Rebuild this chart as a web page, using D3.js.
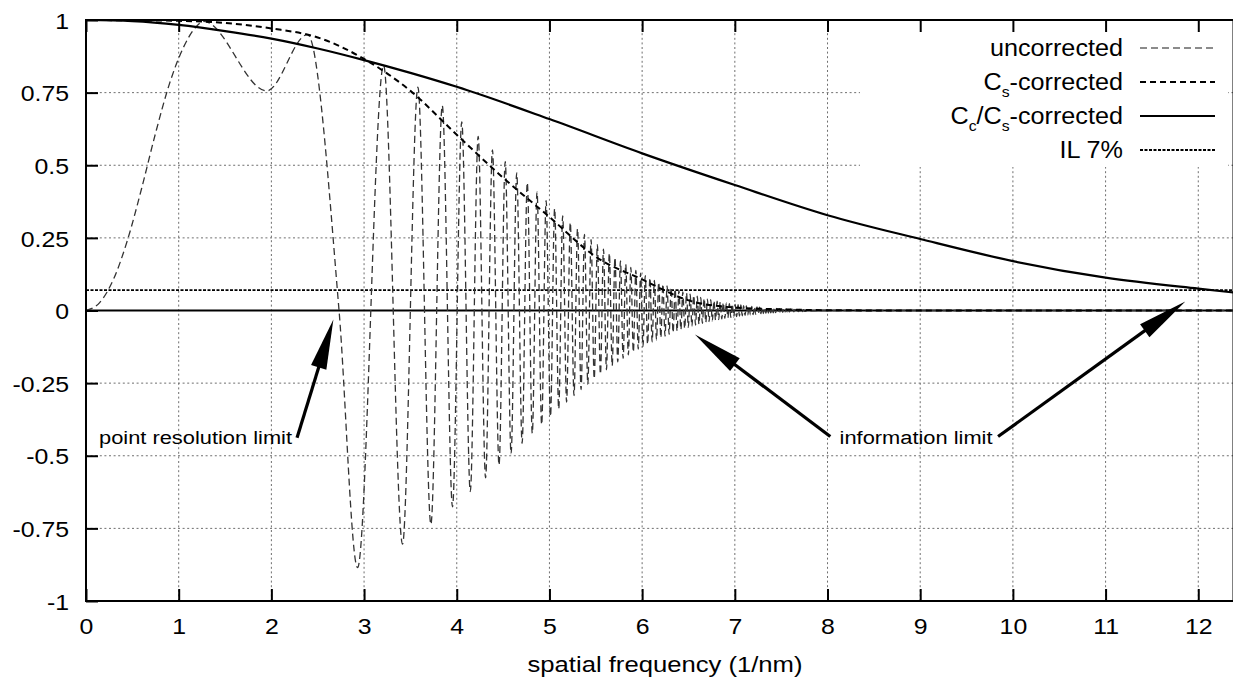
<!DOCTYPE html>
<html>
<head>
<meta charset="utf-8">
<script src="https://cdn.jsdelivr.net/npm/d3@7"></script>
<style>
body { margin: 0; background: #fff; }
svg { display: block; font-family: "Liberation Sans", Arial, Helvetica, sans-serif; }
</style>
</head>
<body>
<svg id="chart" width="1233" height="679"></svg>
<script>
// ---- data ----
var xTicks = [0, 1, 2, 3, 4, 5, 6, 7, 8, 9, 10, 11, 12];
var yTicks = [-1, -0.75, -0.5, -0.25, 0, 0.25, 0.5, 0.75, 1];
var yTickLabels = ["-1", "-0.75", "-0.5", "-0.25", "0", "0.25", "0.5", "0.75", "1"];

// Cc/Cs-corrected envelope
var ccsX = [0, 0.5, 1, 1.5, 2, 2.5, 3, 3.5, 4, 5, 6, 7, 8, 9, 10, 11, 12, 12.38];
var ccsY = [1, 0.996, 0.983, 0.962, 0.936, 0.902, 0.862, 0.818, 0.770, 0.659, 0.541, 0.432, 0.328, 0.246, 0.170, 0.113, 0.075, 0.062];

// Cs-corrected envelope
var csX = [0, 0.5, 1, 1.5, 2, 2.5, 3, 3.5, 4, 4.5, 5, 5.5, 6, 6.5, 7, 7.5, 8, 9, 12.38];
var csY = [1, 0.999, 0.997, 0.99, 0.971, 0.94, 0.866, 0.756, 0.605, 0.457, 0.322, 0.185, 0.107, 0.035, 0.010, 0.004, 0.001, 0, 0];

// uncorrected CTF: rise, then extrema of the oscillation (peaks / troughs)
var uncX = [0, 0.15, 0.3, 0.45, 0.6, 0.75, 0.9, 1.05, 1.17, 1.27,
  1.95, 2.39, 2.73,
  2.930, 3.211, 3.415, 3.581, 3.721, 3.844, 3.954, 4.054, 4.146, 4.231,
  4.311, 4.385, 4.456, 4.523, 4.586, 4.647, 4.705, 4.761, 4.815, 4.866,
  4.916, 4.964, 5.011, 5.056, 5.100, 5.143, 5.185, 5.225, 5.265, 5.303,
  5.341, 5.378, 5.414, 5.449, 5.483, 5.517, 5.550, 5.583, 5.615, 5.646,
  5.677, 5.707, 5.737, 5.766, 5.795, 5.823, 5.851, 5.878, 5.905, 5.932,
  5.958, 5.984, 6.009, 6.034, 6.059, 6.084, 6.108, 6.132, 6.155, 6.179,
  6.202, 6.224, 6.247, 6.269, 6.291, 6.313, 6.334, 6.356, 6.377, 6.397,
  6.418, 6.439, 6.459, 6.479, 6.498, 6.518, 6.537, 6.557, 6.576, 6.595,
  6.613, 6.632, 6.650, 6.669, 6.687, 6.704, 6.722, 6.740, 6.757, 6.775,
  6.792, 6.809, 6.826, 6.843, 6.859, 6.876, 6.892, 6.909, 6.925, 6.941,
  6.957, 6.972, 6.988, 7.004, 7.019, 7.035, 7.050, 7.065, 7.080, 7.095,
  7.110, 7.125, 7.139, 7.154, 7.168, 7.183, 7.197, 7.211, 7.225, 7.239,
  7.253, 7.267, 7.281, 7.295, 7.308, 7.322, 7.335, 7.349, 7.362, 7.375,
  7.388, 7.401, 7.414, 7.427, 7.440, 7.453, 7.466, 7.478, 7.491, 7.504,
  7.516, 7.528, 7.541, 7.553, 7.565, 7.577, 7.589, 7.601, 7.613, 7.625,
  7.637, 7.649, 7.661, 7.672, 7.684, 7.696, 7.707, 7.719, 7.730, 7.741,
  7.753, 7.9, 12.38];
var uncY = [0, 0.028, 0.11, 0.245, 0.42, 0.61, 0.78, 0.905, 0.97, 0.995,
  0.756, 0.95, 0,
  -0.885, 0.844, -0.804, 0.769, -0.736, 0.705, -0.676, 0.649, -0.623, 0.599,
  -0.576, 0.553, -0.532, 0.512, -0.493, 0.474, -0.457, 0.440, -0.423, 0.408,
  -0.393, 0.378, -0.365, 0.351, -0.339, 0.326, -0.315, 0.303, -0.293, 0.282,
  -0.272, 0.262, -0.253, 0.244, -0.235, 0.227, -0.219, 0.211, -0.204, 0.197,
  -0.190, 0.183, -0.177, 0.171, -0.165, 0.159, -0.153, 0.148, -0.143, 0.138,
  -0.133, 0.129, -0.124, 0.120, -0.116, 0.112, -0.108, 0.104, -0.101, 0.097,
  -0.094, 0.091, -0.088, 0.085, -0.082, 0.079, -0.076, 0.074, -0.071, 0.069,
  -0.066, 0.064, -0.062, 0.060, -0.058, 0.056, -0.054, 0.052, -0.050, 0.049,
  -0.047, 0.045, -0.044, 0.042, -0.041, 0.039, -0.038, 0.037, -0.036, 0.034,
  -0.033, 0.032, -0.031, 0.030, -0.029, 0.028, -0.027, 0.026, -0.025, 0.024,
  -0.024, 0.023, -0.022, 0.021, -0.021, 0.020, -0.019, 0.019, -0.018, 0.017,
  -0.017, 0.016, -0.016, 0.015, -0.015, 0.014, -0.014, 0.013, -0.013, 0.012,
  -0.012, 0.0115, -0.011, 0.0107, -0.0104, 0.010, -0.0097, 0.0094, -0.0091, 0.0088,
  -0.0085, 0.0082, -0.0079, 0.0077, -0.0074, 0.0072, -0.0069, 0.0067, -0.0065, 0.0063,
  -0.0061, 0.0059, -0.0057, 0.0055, -0.0053, 0.0051, -0.005, 0.0048, -0.0046, 0.0045,
  -0.0043, 0.0042, -0.0041, 0.0039, -0.0038, 0.0037, -0.0036, 0.0035, -0.0034, 0.0032,
  -0.0031, 0, 0];

var ilLevel = 0.07;

var legendNames = [
  [["uncorrected", ""]],
  [["C", ""], ["s", "sub"], ["-corrected", ""]],
  [["C", ""], ["c", "sub"], ["/C", ""], ["s", "sub"], ["-corrected", ""]],
  [["IL 7%", ""]]
];

var labelTexts = ["point resolution limit", "information limit"];
var labelAt = [[0.14, -0.435], [8.13, -0.435]];
var arrowFrom = [[2.277, -0.438], [8.03, -0.434], [9.84, -0.434]];
var arrowTo = [[2.669, -0.031], [6.57, -0.083], [11.86, 0.031]];

// ---- layout ----
var svg = d3.select("#chart");
var pL = 86, pR = 1233.5, pT = 20, pB = 601;

var x = d3.scaleLinear().domain([0, 12.38]).range([pL, pR]);
var y = d3.scaleLinear().domain([-1, 1]).range([pB, pT]);

var styles = {
  unc: { stroke: "#333", width: 1.3, dash: "7,4" },
  cs:  { stroke: "#000", width: 2, dash: "6,4" },
  ccs: { stroke: "#000", width: 2.2, dash: null },
  il:  { stroke: "#000", width: 1.8, dash: "3,1.5" }
};

svg.append("defs").append("clipPath").attr("id", "plotclip")
  .append("rect").attr("x", pL).attr("y", pT)
  .attr("width", pR - pL).attr("height", pB - pT);

// grid
var grid = svg.append("g").attr("stroke", "#6f6f6f").attr("stroke-width", 1).attr("stroke-dasharray", "2,2.6");
grid.selectAll(".gx").data(xTicks.filter(function(d) { return d > 0; }))
  .enter().append("line")
    .attr("x1", function(d) { return x(d); }).attr("x2", function(d) { return x(d); })
    .attr("y1", y(-1)).attr("y2", y(1));
grid.selectAll(".gy").data(yTicks.filter(function(d) { return d > -1 && d < 1; }))
  .enter().append("line")
    .attr("x1", pL).attr("x2", pR)
    .attr("y1", function(d) { return y(d); }).attr("y2", function(d) { return y(d); });

// legend background hides the grid
svg.append("rect").attr("x", 860).attr("y", pT + 1).attr("width", 368).attr("height", 146).attr("fill", "#fff");

var plot = svg.append("g").attr("clip-path", "url(#plotclip)");

// IL 7% and zero axis
plot.append("line").attr("x1", pL).attr("x2", pR)
  .attr("y1", y(ilLevel)).attr("y2", y(ilLevel))
  .attr("stroke", styles.il.stroke).attr("stroke-width", styles.il.width).attr("stroke-dasharray", styles.il.dash);
plot.append("line").attr("x1", pL).attr("x2", pR)
  .attr("y1", y(0)).attr("y2", y(0))
  .attr("stroke", "#000").attr("stroke-width", 2);

var line = d3.line()
  .x(function(d) { return x(d[0]); })
  .y(function(d) { return y(d[1]); })
  .curve(d3.curveMonotoneX);

function drawCurve(xs, ys, st) {
  plot.append("path")
    .datum(d3.zip(xs, ys))
    .attr("d", line)
    .attr("fill", "none")
    .attr("stroke", st.stroke)
    .attr("stroke-width", st.width)
    .attr("stroke-dasharray", st.dash)
    .attr("stroke-linejoin", "round");
}
drawCurve(uncX, uncY, styles.unc);
drawCurve(csX, csY, styles.cs);
drawCurve(ccsX, ccsY, styles.ccs);

// border
svg.append("rect").attr("x", pL).attr("y", pT)
  .attr("width", pR - pL).attr("height", pB - pT)
  .attr("fill", "none").attr("stroke", "#000").attr("stroke-width", 2);

// axes (ticks point inward)
var yAxis = svg.append("g").attr("transform", "translate(" + pL + ",0)")
  .call(d3.axisLeft(y).tickValues(yTicks).tickSize(-12).tickPadding(15)
    .tickFormat(function(d, i) { return yTickLabels[i]; }));
var xAxis = svg.append("g").attr("transform", "translate(0," + pB + ")")
  .call(d3.axisBottom(x).tickValues(xTicks).tickSize(-12).tickPadding(17));
var xTop = svg.append("g").attr("transform", "translate(0," + pT + ")")
  .call(d3.axisTop(x).tickValues(xTicks).tickSize(-12).tickFormat(""));

[yAxis, xAxis, xTop].forEach(function(a) {
  a.select(".domain").remove();
  a.selectAll(".tick line").attr("stroke", "#000").attr("stroke-width", 2);
  a.selectAll("text")
    .attr("font-family", "Liberation Sans, Arial, sans-serif")
    .attr("font-size", 22).attr("fill", "#000")
    .attr("transform", "scale(1.13,1)");
});
yAxis.selectAll("text").attr("dy", "0.37em");

// axis title
svg.append("text")
  .attr("transform", "translate(665,672) scale(1.14,1)")
  .attr("text-anchor", "middle").attr("font-size", 22.5)
  .text("spatial frequency (1/nm)");

// legend
var legendKeys = ["unc", "cs", "ccs", "il"];
var lg = svg.append("g");
legendNames.forEach(function(parts, i) {
  var cy = 48 + i * 34;
  var t = lg.append("text").attr("x", 1123).attr("y", cy + 8.5)
    .attr("text-anchor", "end").attr("font-size", 24)
    .attr("transform", "translate(" + (1123 * -0.05) + ",0) scale(1.05,1)");
  parts.forEach(function(p, j) {
    if (p[1] === "sub") {
      t.append("tspan").attr("font-size", 15).attr("dy", 7).text(p[0]);
    } else {
      var s = t.append("tspan").text(p[0]);
      if (j > 0) s.attr("dy", -7);
    }
  });
  var st = styles[legendKeys[i]];
  lg.append("line").attr("x1", 1140).attr("x2", 1215).attr("y1", cy).attr("y2", cy)
    .attr("stroke", i === 0 ? "#666" : st.stroke)
    .attr("stroke-width", st.width)
    .attr("stroke-dasharray", st.dash);
});

// arrows
var ann = svg.append("g");
arrowFrom.forEach(function(f, i) {
  var x1 = x(f[0]), y1 = y(f[1]), x2 = x(arrowTo[i][0]), y2 = y(arrowTo[i][1]);
  var dx = x2 - x1, dy = y2 - y1, len = Math.sqrt(dx * dx + dy * dy);
  var ux = dx / len, uy = dy / len, hl = 50, hw = 8;
  var bx = x2 - ux * hl, by = y2 - uy * hl;
  ann.append("line").attr("x1", x1).attr("y1", y1).attr("x2", bx + ux * 4).attr("y2", by + uy * 4)
    .attr("stroke", "#000").attr("stroke-width", 3.2);
  ann.append("path")
    .attr("d", "M" + x2 + "," + y2 + "L" + (bx - uy * hw) + "," + (by + ux * hw) +
      "L" + (bx + uy * hw) + "," + (by - ux * hw) + "Z")
    .attr("fill", "#000");
});
labelTexts.forEach(function(txt, i) {
  ann.append("text")
    .attr("transform", "translate(" + x(labelAt[i][0]) + "," + (y(labelAt[i][1]) + 7) + ") scale(1.15,1)")
    .attr("font-size", 19)
    .text(txt);
});
</script>
</body>
</html>
